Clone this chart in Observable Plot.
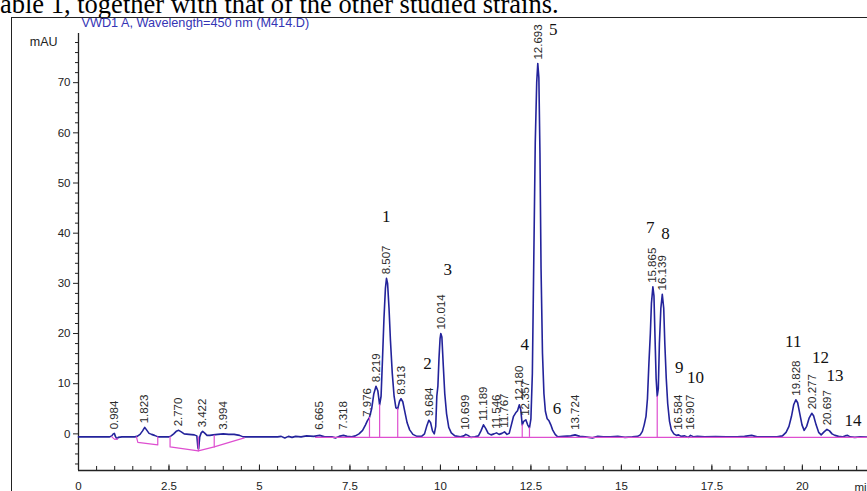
<!DOCTYPE html>
<html><head><meta charset="utf-8">
<script src="https://cdn.jsdelivr.net/npm/d3@7"></script>
<script src="https://cdn.jsdelivr.net/npm/@observablehq/plot@0.6"></script>
<style>
html,body{margin:0;padding:0;background:#fff;overflow:hidden;width:867px;height:491px;}
#wrap{position:relative;width:867px;height:491px;overflow:hidden;}
#caption{position:absolute;left:0px;top:-9.5px;font-family:"Liberation Serif","Times New Roman",serif;font-size:26.5px;line-height:26px;color:#000;white-space:nowrap;}
#frameTop{position:absolute;left:11px;top:16.5px;width:856px;height:0;border-top:1.5px solid #222;}
#frameLeft{position:absolute;left:11px;top:16.5px;width:0;height:475px;border-left:1.5px solid #222;}
#chart{position:absolute;left:0;top:0;}
</style></head>
<body><div id="wrap"><div id="caption">able 1, together with that of the other studied strains.</div><div id="chart"></div><div id="frameTop"></div><div id="frameLeft"></div></div>
<script>
// ---- chromatogram trace (retention time, min ; absorbance, mAU) ----
const traceTime = [0,0.5,0.85,0.92,0.96,0.99,1.02,1.06,1.1,1.2,1.55,1.62,1.7,1.77,1.83,1.89,1.95,2.02,2.1,2.2,2.5,2.56,2.63,2.7,2.77,2.84,2.92,3.05,3.2,3.27,3.3,3.32,3.35,3.39,3.43,3.48,3.55,3.63,3.72,3.85,4.0,4.15,4.3,4.45,4.55,5.5,5.6,5.7,5.8,5.9,6.0,6.15,6.3,6.5,6.665,6.8,7.0,7.1,7.2,7.32,7.42,7.55,
7.65,7.75,7.85,7.93,7.98,8.04,8.1,8.16,8.22,8.27,8.32,8.36,8.40,8.44,8.48,8.51,8.54,8.58,8.62,8.67,8.72,8.77,8.82,8.87,8.91,8.96,9.02,9.08,9.15,9.24,9.35,9.48,9.56,9.62,9.68,9.73,9.78,9.83,9.87,9.9,9.93,9.96,9.99,10.01,10.04,10.08,10.12,10.17,10.23,10.3,10.4,10.55,10.65,10.7,10.76,10.84,10.95,11.05,11.12,11.19,11.25,11.32,11.4,11.48,11.55,11.62,11.7,11.77,11.84,11.9,11.96,12.02,12.08,12.13,12.18,12.22,12.26,12.3,12.36,12.41,12.46,12.5,12.54,12.58,12.62,12.66,12.69,12.72,12.75,12.78,12.82,12.86,12.9,12.95,13.0,13.05,13.1,13.17,13.24,
13.4,13.6,13.72,13.85,14.0,14.2,14.35,14.5,14.7,14.9,15.1,15.3,15.45,15.52,15.58,15.63,15.68,15.72,15.76,15.8,15.83,15.87,15.9,15.93,15.96,15.99,16.02,16.05,16.09,16.13,16.17,16.2,16.24,16.28,16.33,16.38,16.45,16.52,16.58,16.65,16.75,16.85,16.91,17.0,17.1,17.3,17.6,17.9,18.2,18.4,18.6,18.75,19.0,19.3,19.45,19.55,19.63,19.7,19.76,19.82,19.87,19.93,19.99,20.05,20.12,20.19,20.26,20.31,20.38,20.45,20.52,20.6,20.68,20.75,20.82,20.9,21.0,21.1,21.18,21.25,21.32,21.45,21.6,21.8];
const traceMAU = [-0.6,-0.6,-0.6,-0.4,0.0,0.1,-0.5,-1.0,-0.7,-0.6,-0.6,-0.5,-0.1,0.6,1.3,0.7,0.1,-0.1,-0.3,-0.6,-0.6,-0.4,0.0,0.5,0.7,0.4,0.0,-0.1,-0.2,-0.4,-2.8,-3.0,-0.6,0.2,0.5,0.2,-0.3,-0.3,-0.2,-0.1,0.0,-0.1,-0.1,-0.3,-0.6,-0.6,-0.5,-0.8,-0.5,-0.7,-0.5,-0.6,-0.4,-0.5,-0.3,-0.6,-0.6,-0.8,-0.5,-0.3,-0.5,-0.6,
-0.4,0.0,0.7,1.8,2.6,3.3,5.0,8.0,9.5,8.6,5.8,7.5,15,23,29,31,30,25,18.5,12,7.5,5.2,5.0,6.5,7.0,6.4,4.3,2.2,0.8,-0.1,-0.5,-0.5,0.0,1.5,2.7,2.2,0.6,0.0,1.5,7.5,9.5,15,19,20,19.3,13.5,8,4,1.3,0.2,-0.4,-0.6,-0.4,-0.1,-0.3,-0.7,-0.6,-0.4,0.6,1.8,1.1,0.1,-0.2,0.0,0.2,-0.1,0.1,0.4,-0.1,0.1,1.8,3.5,4.2,4.6,5.8,4.8,1.8,2.5,2.8,1.8,1.2,3.0,12,35,58,70,73.8,71,56,33,16,8,4.5,3.0,2.6,1.8,0.8,-0.1,-0.6,
-0.5,-0.4,-0.2,-0.5,-0.6,-0.8,-0.5,-0.6,-0.6,-0.5,-0.7,-0.6,-0.5,-0.2,0.5,1.8,3.5,7,14,20,26,29.3,27.5,19,11,7.5,9,18,25,27.8,25,18,11,6,2.5,0.8,0.0,-0.3,-0.2,-0.5,-0.4,-0.7,-0.3,-0.6,-0.5,-0.6,-0.55,-0.6,-0.6,-0.5,-0.3,-0.6,-0.6,-0.6,-0.4,0.3,1.5,3.5,5.8,6.8,6.2,4.0,1.8,0.7,1.5,3.2,4.1,3.6,1.8,0.3,-0.2,0.4,0.9,0.6,0.0,-0.3,-0.5,-0.6,-0.4,-0.3,-0.6,-0.7,-0.6,-0.65];

// ---- integration peaks: retention-time labels and apex heights ----
const peakLabels = ["0.984","1.823","2.770","3.422","3.994","6.665","7.318","7.976","8.219","8.507","8.913","9.684","10.014","10.699","11.189","11.546","11.767","12.180","12.357","12.693","13.724","15.865","16.139","16.584","16.907","19.828","20.277","20.697"];
const peakApex = [0.1,1.3,0.7,0.5,0.0,-0.3,-0.3,2.6,9.5,31,7.0,2.7,20,-0.1,1.8,0.2,0.4,5.8,2.8,73.8,-0.2,29.3,27.8,-0.2,-0.3,6.8,4.1,0.9];

// ---- compound numbers written on the figure ----
const compoundNumbers = ["1","2","3","4","5","6","7","8","9","10","11","12","13","14"];
const compoundTime = [8.5,9.64,10.2,12.33,13.12,13.22,15.8,16.22,16.6,17.05,19.75,20.5,20.9,21.4];
const compoundMAU = [43.4,14.0,32.8,17.8,80.6,5.0,41.2,40.0,13.3,11.3,18.4,15.3,11.6,2.7];

// ---- integration baselines (pink) ----
const baseGroup = ["a","a","a","b","b","b","b","c","c","c","c","c","d","d","e","e","f","f"];
const baseTime  = [0.92,1.0,1.08, 1.6,1.64,2.19,2.19, 2.53,2.53,3.31,3.75,4.58, 3.31,3.31, 3.75,3.75, 6.55,21.8];
const baseMAU   = [-0.6,-1.1,-1.0, -0.6,-1.7,-2.2,-0.6, -0.6,-2.6,-3.4,-2.6,-0.8, -3.4,-0.6, -2.6,-0.3, -0.7,-0.7];
const dropTime = [8.04,8.32,8.82,12.26,12.46,15.99];
const dropTop  = [3.3,5.8,5.0,1.8,1.2,7.5];

// ---- axes ----
const xTicks = [0,2.5,5,7.5,10,12.5,15,17.5,20];
const xTickLabels = ["0","2.5","5","7.5","10","12.5","15","17.5","20"];
const xMinor = d3.range(0, 22, 0.5);
const yTicks = [0,10,20,30,40,50,60,70];
const yMinor = d3.range(-6, 80, 2).filter(v => v % 10 !== 0);
const chartTitle = "VWD1 A, Wavelength=450 nm (M414.D)";
const yUnit = "mAU";
const xUnit = "min";

const X0 = 0, X1 = 21.8, Y0 = -7.3, Y1 = 79.8;
const trace = traceTime.map((t, i) => ({t, v: traceMAU[i]}));
const peaks = peakLabels.map((l, i) => ({t: +l, v: Math.max(peakApex[i], 0), label: l}));
const nums = compoundNumbers.map((n, i) => ({t: compoundTime[i], v: compoundMAU[i], n}));
const base = baseTime.map((t, i) => ({t, v: baseMAU[i], g: baseGroup[i]}));
const drops = dropTime.map((t, i) => ({t, top: dropTop[i]}));
const axisColor = "#222";
const sans = "'Liberation Sans', Arial, sans-serif";

const chart = Plot.plot({
  width: 867, height: 491,
  marginLeft: 78, marginRight: 0, marginTop: 33, marginBottom: 21,
  style: {fontFamily: sans, background: "transparent"},
  x: {domain: [X0, X1]},
  y: {domain: [Y0, Y1]},
  marks: [
    Plot.axisY({ticks: yTicks, tickSize: 5, tickPadding: 3, label: null, fontSize: 11.5, color: axisColor}),
    Plot.axisY({ticks: yMinor, tickSize: 3, tickFormat: () => "", label: null, color: axisColor}),
    Plot.axisX({ticks: xTicks, tickSize: 0, tickPadding: 11, label: null, fontSize: 11.5, color: axisColor,
                tickFormat: d => xTickLabels[xTicks.indexOf(d)]}),
    Plot.ruleX(xMinor, {x: d => d, y1: Y0, y2: Y0 + 0.8, stroke: axisColor}),
    Plot.ruleX(xTicks, {x: d => d, y1: Y0, y2: Y0 + 1.1, stroke: axisColor}),
    Plot.ruleX([X0], {stroke: axisColor, strokeWidth: 1.3}),
    Plot.ruleY([Y0], {stroke: axisColor, strokeWidth: 1.3}),
    Plot.line(trace, {x: "t", y: "v", stroke: "#23239b", strokeWidth: 1.6, curve: "linear"}),
    Plot.line(base, {x: "t", y: "v", z: "g", stroke: "#de4fd0", strokeWidth: 1.2}),
    Plot.ruleX(drops, {x: "t", y1: -0.7, y2: "top", stroke: "#de4fd0", strokeWidth: 1.2}),
    Plot.text(peaks, {x: "t", y: "v", text: "label", rotate: -90, textAnchor: "start", lineAnchor: "middle",
                      dy: -4, fontSize: 11.5, fill: "#2a2a2a"}),
    Plot.text(nums, {x: "t", y: "v", text: "n", fontFamily: "'Liberation Serif', 'Times New Roman', serif",
                     fontSize: 17, fill: "#111"}),
    Plot.text([chartTitle], {frameAnchor: "top-left", textAnchor: "start", lineAnchor: "middle", dx: 3, dy: -11,
                             fontSize: 12.7, fill: "#3535b5"}),
    Plot.text([yUnit], {frameAnchor: "top-left", textAnchor: "end", lineAnchor: "middle", dx: -21, dy: 8,
                        fontSize: 12.5, fill: axisColor}),
    Plot.text([xUnit], {frameAnchor: "bottom-right", textAnchor: "start", lineAnchor: "middle", dx: -13, dy: 17,
                        fontSize: 11.5, fill: axisColor})
  ]
});
document.getElementById("chart").appendChild(chart);
</script>
</body></html>
